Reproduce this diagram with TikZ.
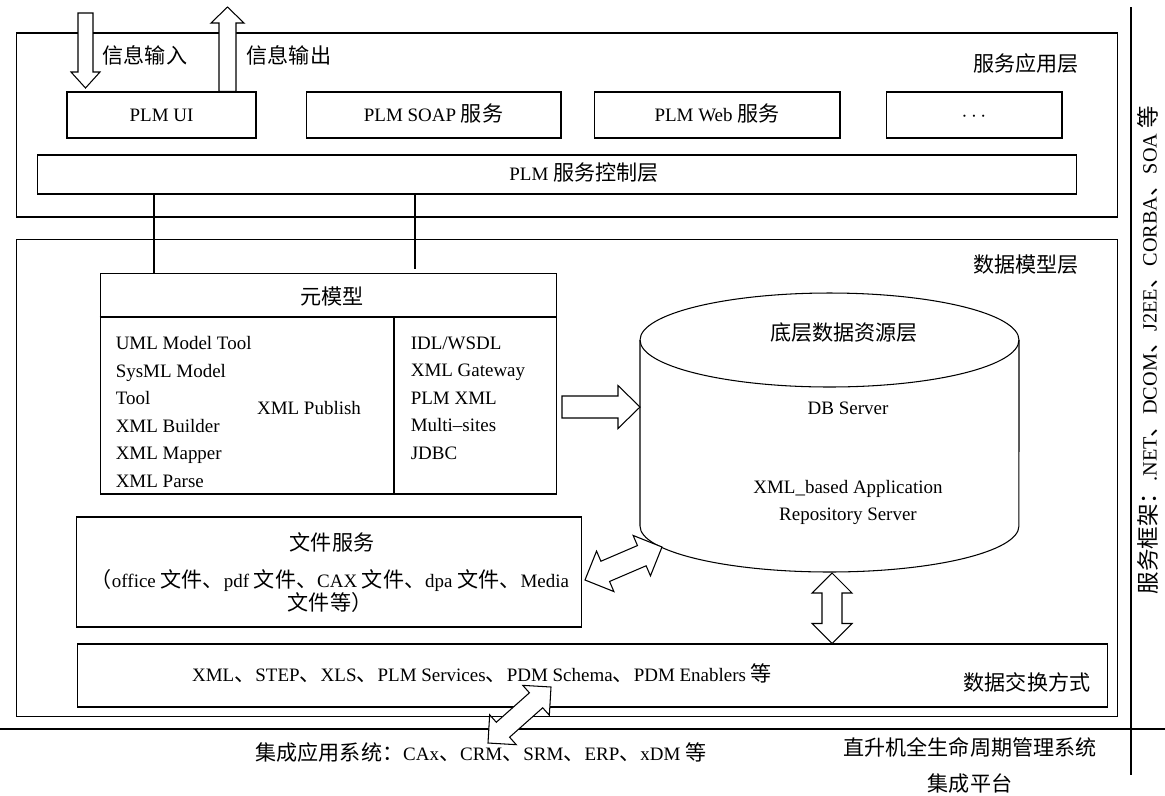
\documentclass[tikz,border=0pt]{standalone}
\usepackage{fontspec}
\setmainfont{Liberation Serif}[Scale=0.9]
\newfontfamily\cjk{Noto Sans CJK SC}
\newcommand{\zh}[1]{{\cjk #1}}
\usetikzlibrary{calc}

% hollow block arrows: #1 tail, #2 tip, #3 half shaft, #4 half head, #5 head length
\newcommand{\blockarrow}[5]{%
  \coordinate (ba-h) at ($(#2)!#5!(#1)$);
  \draw[blk] ($(#1)!#3!90:(#2)$) -- ($(ba-h)!#3!90:(#2)$) -- ($(ba-h)!#4!90:(#2)$) -- (#2)
    -- ($(ba-h)!#4!-90:(#2)$) -- ($(ba-h)!#3!-90:(#2)$) -- ($(#1)!#3!-90:(#2)$) -- cycle;}
\newcommand{\dblarrow}[5]{%
  \coordinate (da-a) at ($(#1)!#5!(#2)$);
  \coordinate (da-b) at ($(#2)!#5!(#1)$);
  \draw[blk] (#1) -- ($(da-a)!#4!-90:(#2)$) -- ($(da-a)!#3!-90:(#2)$) -- ($(da-b)!#3!-90:(#2)$)
    -- ($(da-b)!#4!-90:(#2)$) -- (#2) -- ($(da-b)!#4!90:(#2)$) -- ($(da-b)!#3!90:(#2)$)
    -- ($(da-a)!#3!90:(#2)$) -- ($(da-a)!#4!90:(#2)$) -- cycle;}

\begin{document}
\begin{tikzpicture}[x=0.02cm, y=-0.02cm, line width=0.6pt,
    font=\fontsize{12}{14.4}\selectfont,
    box/.style={draw, inner sep=0pt, text height=9pt, text depth=2pt},
    svc/.style={box, minimum height=0.92cm},
    blk/.style={draw, fill=white, line join=miter}]
\useasboundingbox (0,0) rectangle (1165,795);

% service application layer
\node[box, minimum width=22.04cm, minimum height=3.68cm] (apps) at (567,125) {};
\node (appslbl) at (1026,63) {\zh{服务应用层}};
\node[svc, minimum width=3.78cm] (ui) at (161.5,115) {PLM UI};
\node[svc, minimum width=5.10cm] (soap) at (433.5,115) {PLM SOAP \zh{服务}};
\node[svc, minimum width=4.92cm] (web) at (717,115) {PLM Web \zh{服务}};
\node[svc, minimum width=3.52cm] (more) at (974,115) {$\cdots$};
\node[box, minimum width=20.8cm, minimum height=0.78cm] (ctrl) at (557,174.5)
  {\hspace*{1.08cm}PLM \zh{服务控制层}};
\node[anchor=west] (inlbl) at (97,55) {\zh{信息输入}};
\node[anchor=west] (outlbl) at (241,55) {\zh{信息输出}};

% data model layer
\node[box, minimum width=22.04cm, minimum height=9.56cm] (data) at (567,478) {};
\node (datalbl) at (1026,265) {\zh{数据模型层}};

% meta model
\node[box, minimum width=9.14cm, minimum height=4.42cm] (meta) at (328.5,383.5) {};
\draw (meta.west |- 0,317) -- (meta.east |- 0,317);
\draw (394,317) -- (394,0 |- meta.south);
\node (metattl) at (332,296) {\zh{元模型}};
\node[anchor=west, align=left, font=\fontsize{12}{15.6}\selectfont] (tools) at (110,412)
  {UML Model Tool\\SysML Model\\Tool\\XML Builder\\XML Mapper\\XML Parse};
\node (publish) at (309,408) {XML Publish};
\node[anchor=west, align=left, font=\fontsize{12}{15.6}\selectfont] (ifaces) at (405,398)
  {IDL/WSDL\\XML Gateway\\PLM XML\\Multi--sites\\JDBC};

% database
\draw (640,340) -- (640,526) arc[start angle=180, end angle=360, x radius=3.79cm, y radius=0.92cm] -- (1019,340);
\draw (829.5,340) ellipse [x radius=3.79cm, y radius=0.94cm];
\node (dbttl) at (844,333) {\zh{底层数据资源层}};
\node (dbsrv) at (848,408) {DB Server};
\node[align=center, font=\fontsize{12}{15.4}\selectfont] (repo) at (848,502)
  {XML\_based Application\\Repository Server};

% file service
\node[box, minimum width=10.12cm, minimum height=2.2cm] (file) at (329,572) {};
\node (filettl) at (332,542) {\zh{文件服务}};
\node[align=center, font=\fontsize{12}{13.2}\selectfont] (filetxt) at (330,591)
  {\zh{（}office \zh{文件、}pdf \zh{文件、}CAX \zh{文件、}dpa \zh{文件、}Media\\\zh{文件等）}};

% data exchange
\node[box, minimum width=20.62cm, minimum height=1.26cm] (exch) at (592.5,675.5) {};
\node (exchtxt) at (482,673) {XML\zh{、}STEP\zh{、}XLS\zh{、}PLM Services\zh{、}PDM Schema\zh{、}PDM Enablers \zh{等}};
\node (exchlbl) at (1027,682) {\zh{数据交换方式}};

% links between the layers
\draw (154,0 |- ctrl.south) -- (154,0 |- meta.north);
\draw[shorten >=0.08cm] (415,0 |- ctrl.south) -- (415,0 |- meta.north);

% platform frame
\draw (0,729) -- (1165,729);
\draw (1131,7) -- (1131,775);
\node[rotate=90, font=\fontsize{12.8}{15}\selectfont] (frame) at (1148,350)
  {\zh{服务框架：}.NET\zh{、}DCOM\zh{、}J2EE\zh{、}CORBA\zh{、}SOA \zh{等}};
\node (extlbl) at (481,752) {\zh{集成应用系统：}CAx\zh{、}CRM\zh{、}SRM\zh{、}ERP\zh{、}xDM \zh{等}};
\node[align=center, font=\fontsize{12}{20.5}\selectfont] (platform) at (970,765)
  {\zh{直升机全生命周期管理系统}\\\zh{集成平台}};

% block arrows
\coordinate (inTop) at (85.5,13);
\coordinate (inTip) at (85.5,88);
\blockarrow{inTop}{inTip}{0.15cm}{0.29cm}{0.32cm}
\coordinate (outTail) at (227.5,0 |- ui.north);
\coordinate (outTip) at (227.5,7);
\blockarrow{outTail}{outTip}{0.17cm}{0.33cm}{0.32cm}
\coordinate (metaOut) at (562,407);
\coordinate (dbIn) at (640,407);
\blockarrow{metaOut}{dbIn}{0.22cm}{0.43cm}{0.44cm}
\coordinate (dbBot) at (832,573);
\coordinate (exIn) at (832,0 |- exch.north);
\dblarrow{dbBot}{exIn}{0.2cm}{0.4cm}{0.4cm}
\coordinate (fileOut) at (585,580);
\coordinate (dbSide) at (662,547);
\dblarrow{fileOut}{dbSide}{0.22cm}{0.44cm}{0.44cm}
\coordinate (extSys) at (488,743);
\coordinate (exOut) at (551,687);
\dblarrow{extSys}{exOut}{0.2cm}{0.4cm}{0.4cm}
\end{tikzpicture}
\end{document}
